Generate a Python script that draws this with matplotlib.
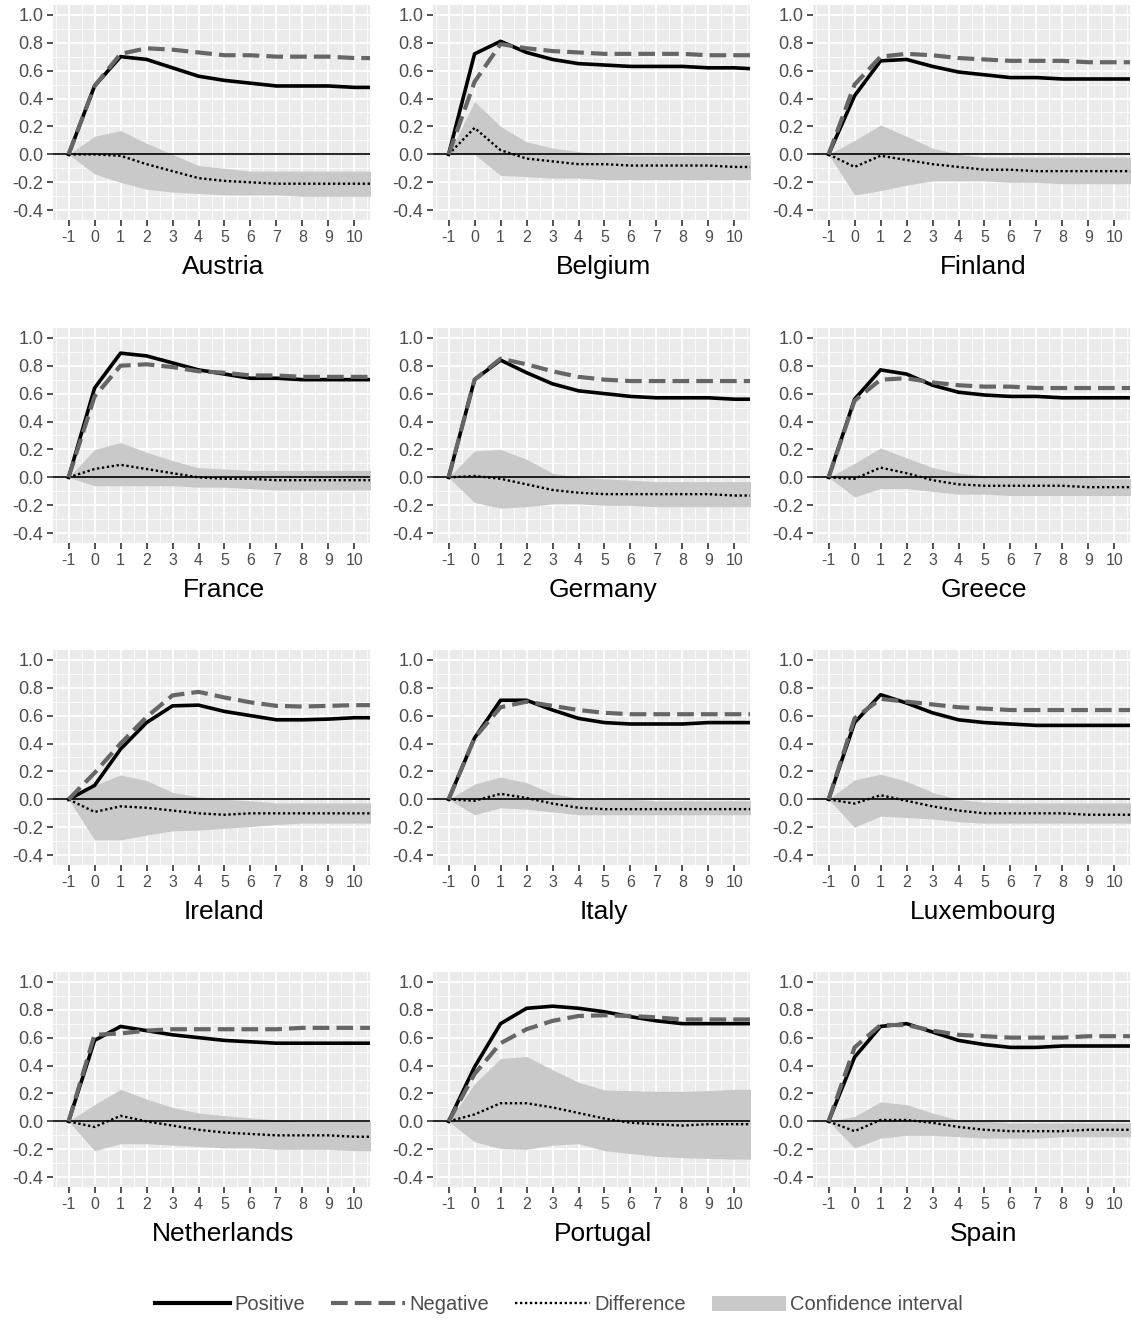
import matplotlib
matplotlib.use("Agg")
from matplotlib import pyplot as plt
from matplotlib.lines import Line2D
from matplotlib.patches import Patch
import numpy as np

plt.rcParams['font.family'] = ['Liberation Sans', 'DejaVu Sans']
plt.rcParams['axes.unicode_minus'] = False

# horizon 11 only carries the line on to the cropped right edge of each panel
horizon = [-1, 0, 1, 2, 3, 4, 5, 6, 7, 8, 9, 10, 11]
tick_horizon = [-1, 0, 1, 2, 3, 4, 5, 6, 7, 8, 9, 10]
countries = ["Austria", "Belgium", "Finland", "France", "Germany", "Greece",
             "Ireland", "Italy", "Luxembourg", "Netherlands", "Portugal", "Spain"]

positive = {
    "Austria":     [0, 0.49, 0.70, 0.68, 0.62, 0.56, 0.53, 0.51, 0.49, 0.49, 0.49, 0.48, 0.48],
    "Belgium":     [0, 0.72, 0.81, 0.73, 0.68, 0.65, 0.64, 0.63, 0.63, 0.63, 0.62, 0.62, 0.61],
    "Finland":     [0, 0.42, 0.67, 0.68, 0.63, 0.59, 0.57, 0.55, 0.55, 0.54, 0.54, 0.54, 0.54],
    "France":      [0, 0.64, 0.89, 0.87, 0.82, 0.77, 0.74, 0.71, 0.71, 0.70, 0.70, 0.70, 0.70],
    "Germany":     [0, 0.70, 0.84, 0.75, 0.67, 0.62, 0.60, 0.58, 0.57, 0.57, 0.57, 0.56, 0.56],
    "Greece":      [0, 0.56, 0.77, 0.74, 0.66, 0.61, 0.59, 0.58, 0.58, 0.57, 0.57, 0.57, 0.57],
    "Ireland":     [0, 0.10, 0.36, 0.55, 0.67, 0.675, 0.63, 0.60, 0.57, 0.57, 0.575, 0.585, 0.585],
    "Italy":       [0, 0.44, 0.71, 0.71, 0.64, 0.58, 0.55, 0.54, 0.54, 0.54, 0.55, 0.55, 0.55],
    "Luxembourg":  [0, 0.55, 0.75, 0.69, 0.62, 0.57, 0.55, 0.54, 0.53, 0.53, 0.53, 0.53, 0.53],
    "Netherlands": [0, 0.58, 0.68, 0.65, 0.62, 0.60, 0.58, 0.57, 0.56, 0.56, 0.56, 0.56, 0.56],
    "Portugal":    [0, 0.39, 0.70, 0.81, 0.825, 0.81, 0.785, 0.75, 0.72, 0.70, 0.70, 0.70, 0.70],
    "Spain":       [0, 0.46, 0.68, 0.70, 0.64, 0.58, 0.55, 0.53, 0.53, 0.54, 0.54, 0.54, 0.54],
}
negative = {
    "Austria":     [0, 0.49, 0.72, 0.76, 0.75, 0.73, 0.71, 0.71, 0.70, 0.70, 0.70, 0.69, 0.69],
    "Belgium":     [0, 0.52, 0.79, 0.76, 0.74, 0.73, 0.72, 0.72, 0.72, 0.72, 0.71, 0.71, 0.71],
    "Finland":     [0, 0.50, 0.70, 0.72, 0.71, 0.69, 0.68, 0.67, 0.67, 0.67, 0.66, 0.66, 0.66],
    "France":      [0, 0.58, 0.80, 0.81, 0.79, 0.76, 0.75, 0.73, 0.73, 0.72, 0.72, 0.72, 0.72],
    "Germany":     [0, 0.70, 0.85, 0.81, 0.76, 0.72, 0.70, 0.69, 0.69, 0.69, 0.69, 0.69, 0.69],
    "Greece":      [0, 0.55, 0.70, 0.71, 0.68, 0.66, 0.65, 0.65, 0.64, 0.64, 0.64, 0.64, 0.64],
    "Ireland":     [0, 0.19, 0.40, 0.59, 0.745, 0.77, 0.73, 0.695, 0.67, 0.665, 0.67, 0.675, 0.675],
    "Italy":       [0, 0.44, 0.66, 0.70, 0.67, 0.64, 0.62, 0.61, 0.61, 0.61, 0.61, 0.61, 0.61],
    "Luxembourg":  [0, 0.58, 0.72, 0.70, 0.68, 0.66, 0.65, 0.64, 0.64, 0.64, 0.64, 0.64, 0.64],
    "Netherlands": [0, 0.62, 0.63, 0.65, 0.66, 0.66, 0.66, 0.66, 0.66, 0.67, 0.67, 0.67, 0.67],
    "Portugal":    [0, 0.34, 0.56, 0.66, 0.72, 0.755, 0.76, 0.755, 0.745, 0.73, 0.73, 0.73, 0.73],
    "Spain":       [0, 0.53, 0.69, 0.69, 0.65, 0.62, 0.61, 0.60, 0.60, 0.60, 0.61, 0.61, 0.61],
}
difference = {
    "Austria":     [0, 0.00, -0.01, -0.07, -0.12, -0.17, -0.19, -0.20, -0.21, -0.21, -0.21, -0.21, -0.21],
    "Belgium":     [0, 0.19, 0.03, -0.03, -0.05, -0.07, -0.07, -0.08, -0.08, -0.08, -0.08, -0.09, -0.09],
    "Finland":     [0, -0.09, -0.01, -0.04, -0.07, -0.09, -0.11, -0.11, -0.12, -0.12, -0.12, -0.12, -0.12],
    "France":      [0, 0.06, 0.09, 0.06, 0.03, 0.00, -0.01, -0.01, -0.02, -0.02, -0.02, -0.02, -0.02],
    "Germany":     [0, 0.01, -0.01, -0.05, -0.09, -0.11, -0.12, -0.12, -0.12, -0.12, -0.12, -0.13, -0.13],
    "Greece":      [0, -0.01, 0.07, 0.03, -0.02, -0.05, -0.06, -0.06, -0.06, -0.06, -0.07, -0.07, -0.07],
    "Ireland":     [0, -0.09, -0.05, -0.06, -0.08, -0.10, -0.11, -0.10, -0.10, -0.10, -0.10, -0.10, -0.10],
    "Italy":       [0, -0.01, 0.04, 0.01, -0.03, -0.06, -0.07, -0.07, -0.07, -0.07, -0.07, -0.07, -0.07],
    "Luxembourg":  [0, -0.03, 0.03, -0.01, -0.05, -0.08, -0.10, -0.10, -0.10, -0.10, -0.11, -0.11, -0.11],
    "Netherlands": [0, -0.04, 0.04, 0.00, -0.03, -0.06, -0.08, -0.09, -0.10, -0.10, -0.10, -0.11, -0.11],
    "Portugal":    [0, 0.05, 0.13, 0.13, 0.10, 0.06, 0.02, -0.01, -0.02, -0.03, -0.02, -0.02, -0.02],
    "Spain":       [0, -0.07, 0.01, 0.01, -0.01, -0.04, -0.06, -0.07, -0.07, -0.07, -0.06, -0.06, -0.06],
}
ci_upper = {
    "Austria":     [0, 0.13, 0.17, 0.08, 0.00, -0.08, -0.10, -0.12, -0.12, -0.12, -0.12, -0.12, -0.12],
    "Belgium":     [0, 0.38, 0.20, 0.09, 0.045, 0.02, 0.00, -0.01, -0.01, -0.01, -0.01, -0.01, -0.01],
    "Finland":     [0, 0.10, 0.21, 0.13, 0.045, 0.00, -0.02, -0.02, -0.02, -0.02, -0.02, -0.02, -0.02],
    "France":      [0, 0.20, 0.25, 0.18, 0.12, 0.07, 0.06, 0.05, 0.05, 0.05, 0.05, 0.05, 0.05],
    "Germany":     [0, 0.19, 0.20, 0.13, 0.03, 0.00, -0.01, -0.02, -0.03, -0.03, -0.03, -0.03, -0.03],
    "Greece":      [0, 0.10, 0.21, 0.14, 0.07, 0.03, 0.01, 0.00, 0.00, 0.00, 0.00, -0.01, -0.01],
    "Ireland":     [0, 0.10, 0.175, 0.135, 0.05, 0.017, 0.00, -0.01, -0.025, -0.025, -0.025, -0.025, -0.025],
    "Italy":       [0, 0.11, 0.16, 0.12, 0.04, 0.01, 0.00, 0.00, -0.01, -0.01, -0.01, -0.01, -0.01],
    "Luxembourg":  [0, 0.14, 0.18, 0.13, 0.05, 0.00, -0.02, -0.025, -0.025, -0.025, -0.025, -0.025, -0.025],
    "Netherlands": [0, 0.12, 0.23, 0.16, 0.10, 0.06, 0.04, 0.025, 0.01, 0.00, 0.00, 0.00, 0.00],
    "Portugal":    [0, 0.27, 0.45, 0.465, 0.37, 0.28, 0.225, 0.22, 0.215, 0.215, 0.22, 0.23, 0.23],
    "Spain":       [0, 0.035, 0.14, 0.12, 0.06, 0.01, 0.00, -0.01, -0.01, -0.01, -0.01, -0.01, -0.01],
}
ci_lower = {
    "Austria":     [0, -0.14, -0.20, -0.25, -0.27, -0.28, -0.29, -0.29, -0.29, -0.30, -0.30, -0.30, -0.30],
    "Belgium":     [0, 0.00, -0.15, -0.16, -0.17, -0.17, -0.18, -0.18, -0.18, -0.18, -0.18, -0.18, -0.18],
    "Finland":     [0, -0.29, -0.26, -0.22, -0.19, -0.19, -0.19, -0.20, -0.20, -0.21, -0.21, -0.21, -0.21],
    "France":      [0, -0.06, -0.06, -0.06, -0.06, -0.07, -0.07, -0.08, -0.09, -0.09, -0.09, -0.09, -0.09],
    "Germany":     [0, -0.18, -0.22, -0.21, -0.19, -0.19, -0.20, -0.20, -0.21, -0.21, -0.21, -0.21, -0.21],
    "Greece":      [0, -0.14, -0.08, -0.08, -0.10, -0.12, -0.12, -0.13, -0.13, -0.13, -0.13, -0.13, -0.13],
    "Ireland":     [0, -0.29, -0.29, -0.255, -0.225, -0.22, -0.207, -0.195, -0.18, -0.17, -0.17, -0.17, -0.17],
    "Italy":       [0, -0.11, -0.06, -0.07, -0.09, -0.11, -0.11, -0.11, -0.11, -0.11, -0.11, -0.11, -0.11],
    "Luxembourg":  [0, -0.20, -0.12, -0.13, -0.14, -0.16, -0.17, -0.17, -0.17, -0.17, -0.17, -0.17, -0.17],
    "Netherlands": [0, -0.21, -0.16, -0.16, -0.17, -0.18, -0.19, -0.19, -0.20, -0.20, -0.20, -0.21, -0.21],
    "Portugal":    [0, -0.146, -0.195, -0.20, -0.17, -0.16, -0.21, -0.23, -0.25, -0.26, -0.265, -0.27, -0.27],
    "Spain":       [0, -0.19, -0.12, -0.10, -0.10, -0.11, -0.12, -0.12, -0.12, -0.11, -0.11, -0.11, -0.11],
}

W, H = 1132, 1321
fig = plt.figure(figsize=(W / 100, H / 100), dpi=100)
fig.patch.set_facecolor("white")

col_left = [53, 433, 813]
row_top = [5, 328, 650, 972]
pw, ph = 317, 215
neg_dash = (0, (4, 1.7))
dot = (0, (1, 1.1))

for i, c in enumerate(countries):
    r, k = divmod(i, 3)
    ax = fig.add_axes([col_left[k] / W, 1 - (row_top[r] + ph) / H, pw / W, ph / H])
    ax.set_facecolor("#EBEBEB")
    for s in ax.spines.values():
        s.set_visible(False)
    ax.set_xlim(-1.6, 10.6)
    ax.set_ylim(-0.47, 1.07)
    ax.set_xticks(tick_horizon)
    ax.set_xticks(np.arange(-1.5, 10.6, 1.0), minor=True)
    ax.set_yticks([-0.4, -0.2, 0.0, 0.2, 0.4, 0.6, 0.8, 1.0])
    ax.set_yticks(np.arange(-0.3, 1.0, 0.2), minor=True)
    ax.set_yticklabels(["-0.4", "-0.2", "0.0", "0.2", "0.4", "0.6", "0.8", "1.0"])
    ax.grid(which="major", color="white", lw=1.3)
    ax.grid(which="minor", color="white", lw=0.6)
    ax.set_axisbelow(True)
    ax.tick_params(which="major", length=4, width=1.2, color="#333333",
                   labelcolor="#4D4D4D", pad=3)
    ax.tick_params(axis="y", labelsize=13)
    ax.tick_params(axis="x", labelsize=11.5)
    ax.tick_params(which="minor", length=0)

    ax.fill_between(horizon, ci_lower[c], ci_upper[c], color="#C9C9C9", lw=0, zorder=2)
    ax.axhline(0, color="black", lw=1.2, zorder=3)
    ax.plot(horizon, difference[c], color="black", lw=1.7, ls=dot, zorder=4)
    ax.plot(horizon, negative[c], color="#666666", lw=3, ls=neg_dash, zorder=5)
    ax.plot(horizon, positive[c], color="black", lw=2.6, zorder=4.5)

    fig.text((col_left[k] + pw / 2 + 12) / W, 1 - (row_top[r] + 262) / H, c,
             ha="center", va="center", fontsize=19, color="black")

handles = [
    Line2D([], [], color="black", lw=3),
    Line2D([], [], color="#666666", lw=3, ls=neg_dash),
    Line2D([], [], color="black", lw=1.7, ls=dot),
    Patch(facecolor="#C9C9C9", edgecolor="none"),
]
fig.legend(handles, ["Positive", "Negative", "Difference", "Confidence interval"],
           loc="center", bbox_to_anchor=(0.494, 1 - 1305 / H), ncol=4, frameon=False,
           handlelength=3.7, handletextpad=0.2, columnspacing=1.3,
           prop={"size": 14.5}, labelcolor="#4D4D4D")

fig.savefig("out.png", dpi=100)
